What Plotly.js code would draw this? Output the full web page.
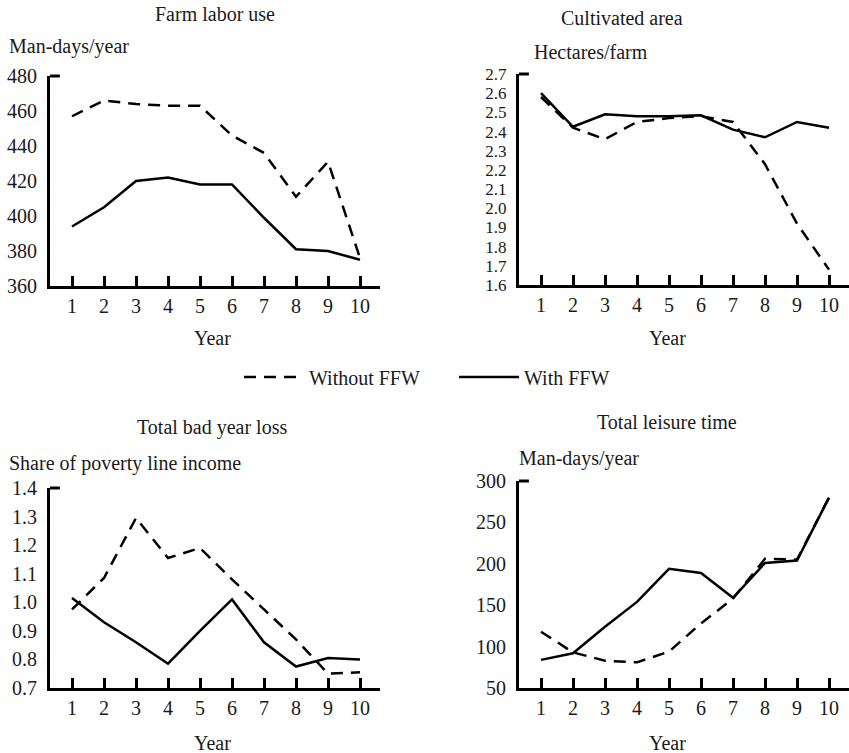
<!DOCTYPE html>
<html>
<head>
<meta charset="utf-8">
<script src="https://cdn.plot.ly/plotly-3.0.1.min.js"></script>
<style>html,body{margin:0;padding:0;background:#fff;}#chart{width:849px;height:753px;}</style>
</head>
<body>
<div id="chart"></div>
<script>
// Data
const years = [1, 2, 3, 4, 5, 6, 7, 8, 9, 10];
const seriesNames = ["Without FFW", "With FFW"];

const laborWithout = [457, 466, 464, 463, 463, 446, 436, 411, 431, 376];
const laborWith    = [394, 405, 420, 422, 418, 418, 399, 381, 380, 375];

const areaWithout = [2.58, 2.42, 2.36, 2.45, 2.47, 2.48, 2.45, 2.23, 1.92, 1.68];
const areaWith    = [2.60, 2.425, 2.49, 2.48, 2.48, 2.485, 2.41, 2.37, 2.45, 2.42];

const lossWithout = [0.975, 1.085, 1.295, 1.155, 1.19, 1.08, 0.975, 0.87, 0.75, 0.755];
const lossWith    = [1.015, 0.93, 0.86, 0.785, 0.90, 1.01, 0.86, 0.775, 0.805, 0.80];

const leisureWithout = [118, 93, 83, 81, 94, 128, 158, 206, 205, 280];
const leisureWith    = [84, 92, 124, 154, 194, 189, 159, 201, 204, 280];

const panelTitles = ["Farm labor use", "Cultivated area", "Total bad year loss", "Total leisure time"];
const unitLabels = ["Man-days/year", "Hectares/farm", "Share of poverty line income", "Man-days/year"];
const xTitle = "Year";

const FONT = "Liberation Serif, Times New Roman, serif";
const TXT = "#1a1a1a";
const W = 849, H = 753;
const px = v => v / W;
const py = v => 1 - v / H;

function mk(x, y, name, dashed, axisIdx, showLegend) {
  const s = axisIdx === 1 ? "" : String(axisIdx);
  return {
    x: x, y: y, name: name, type: "scatter", mode: "lines",
    xaxis: "x" + s, yaxis: "y" + s,
    line: {color: "#000", width: 2.5, dash: dashed ? "12px,8px" : "solid"},
    showlegend: showLegend, hoverinfo: "skip"
  };
}

const data = [
  mk(years, laborWithout, seriesNames[0], true, 1, true),
  mk(years, laborWith, seriesNames[1], false, 1, true),
  mk(years, areaWithout, seriesNames[0], true, 2, false),
  mk(years, areaWith, seriesNames[1], false, 2, false),
  mk(years, lossWithout, seriesNames[0], true, 3, false),
  mk(years, lossWith, seriesNames[1], false, 3, false),
  mk(years, leisureWithout, seriesNames[0], true, 4, false),
  mk(years, leisureWith, seriesNames[1], false, 4, false)
];

function xax(dom, anchor) {
  return {
    domain: dom, anchor: anchor, range: [0.3125, 10.625],
    tickvals: years, ticktext: years.map(String),
    ticks: "inside", ticklen: 10, tickwidth: 3, tickcolor: "#000",
    showline: true, linewidth: 3, linecolor: "#000",
    showgrid: false, zeroline: false,
    tickfont: {family: FONT, size: 20, color: TXT}, fixedrange: true
  };
}
function yax(dom, anchor, range, dtick, fmt, fs) {
  return {
    domain: dom, anchor: anchor, range: range, dtick: dtick, tick0: range[0], tickformat: fmt,
    ticks: "", showline: true, linewidth: 3, linecolor: "#000",
    showgrid: false, zeroline: false, ticklabelstandoff: 6,
    tickfont: {family: FONT, size: fs, color: TXT}, fixedrange: true
  };
}

const layout = {
  width: W, height: H,
  margin: {l: 0, r: 0, t: 0, b: 0},
  paper_bgcolor: "#fff", plot_bgcolor: "#fff",
  font: {family: FONT, color: TXT},
  showlegend: true,
  legend: {
    orientation: "h", x: px(239), xanchor: "left", y: py(377), yanchor: "middle",
    font: {family: FONT, size: 20, color: TXT}, itemwidth: 60,
    entrywidth: 140, entrywidthmode: "pixels",
    bgcolor: "rgba(0,0,0,0)"
  },
  xaxis:  xax([px(50), px(380)], "y"),
  yaxis:  yax([py(286), py(76)], "x", [360, 480], 20, "d", 20),
  xaxis2: xax([px(519), 1], "y2"),
  yaxis2: yax([py(285), py(74)], "x2", [1.6, 2.7], 0.1, ".1f", 17),
  xaxis3: xax([px(50), px(380)], "y3"),
  yaxis3: yax([py(688), py(488)], "x3", [0.7, 1.4], 0.1, ".1f", 20),
  xaxis4: xax([px(519), 1], "y4"),
  yaxis4: yax([py(688), py(481)], "x4", [50, 300], 50, "d", 20),
  annotations: [],
  shapes: []
};

const titlePos = [[215, 14], [622, 18], [212, 427], [667, 422]];
const unitPos = [[7, 47], [532, 52], [7, 463], [517, 458]];
const yearPos = [[212, 338], [667, 338], [212, 743], [667, 743]];
for (let i = 0; i < 4; i++) {
  layout.annotations.push({
    text: panelTitles[i], xref: "paper", yref: "paper",
    x: px(titlePos[i][0]), y: py(titlePos[i][1]), xanchor: "center", yanchor: "middle",
    showarrow: false, font: {family: FONT, size: 20, color: TXT}
  });
  layout.annotations.push({
    text: unitLabels[i], xref: "paper", yref: "paper",
    x: px(unitPos[i][0]), y: py(unitPos[i][1]), xanchor: "left", yanchor: "middle",
    showarrow: false, font: {family: FONT, size: 20, color: TXT}
  });
  layout.annotations.push({
    text: xTitle, xref: "paper", yref: "paper",
    x: px(yearPos[i][0]), y: py(yearPos[i][1]), xanchor: "center", yanchor: "middle",
    showarrow: false, font: {family: FONT, size: 20, color: TXT}
  });
  const s = i === 0 ? "" : String(i + 1);
  // small cap tick at the top of each y axis
  layout.shapes.push({
    type: "line", xref: "x" + s + " domain", yref: "y" + s + " domain",
    x0: 0, x1: 0.03, y0: 1, y1: 1, line: {color: "#000", width: 3}
  });
}

Plotly.newPlot("chart", data, layout, {displayModeBar: false, staticPlot: true});
</script>
</body>
</html>
